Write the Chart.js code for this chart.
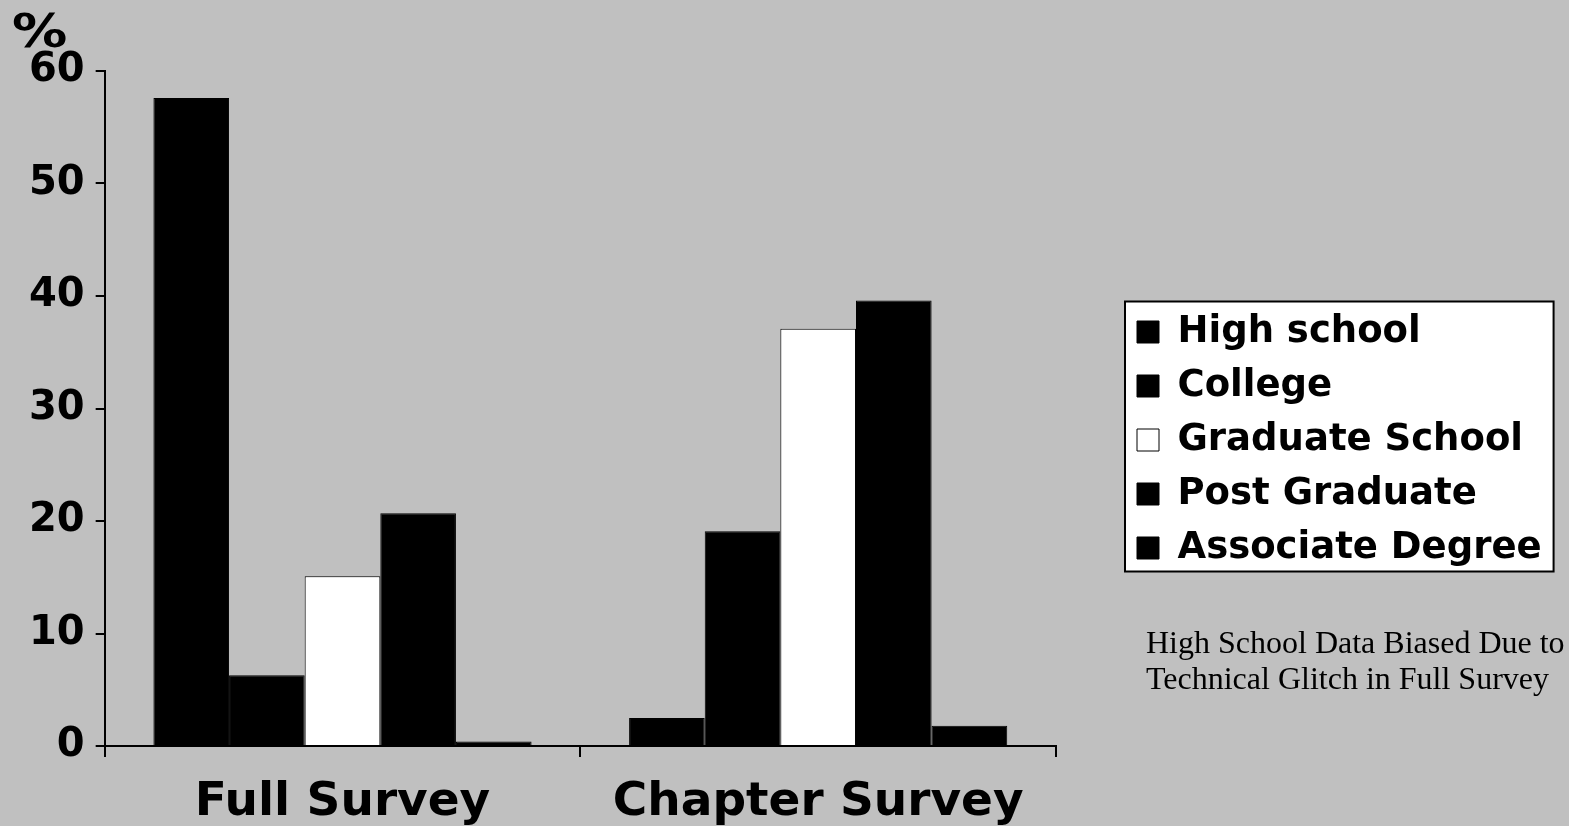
<!DOCTYPE html>
<html>
<head>
<meta charset="utf-8">
<script src="https://cdn.jsdelivr.net/npm/chart.js@4.4.1/dist/chart.umd.min.js"></script>
<style>
  html, body { margin: 0; padding: 0; background: #c0c0c0; overflow: hidden; }
  canvas { display: block; }
</style>
</head>
<body>
<canvas id="eduChart" width="1569" height="826"></canvas>
<script>
// Данные диаграммы
const categories = ['Full Survey', 'Chapter Survey'];
const seriesNames = ['High school', 'College', 'Graduate School', 'Post Graduate', 'Associate Degree'];
const highSchool = [57.6, 2.5];
const college = [6.3, 19.1];
const graduateSchool = [15.1, 37.1];
const postGraduate = [20.7, 39.6];
const associateDegree = [0.4, 1.8];
const yTicks = [0, 10, 20, 30, 40, 50, 60];
const seriesColors = ['#000000', '#000000', '#ffffff', '#000000', '#000000'];
const noteLines = ['High School Data Biased Due to', 'Technical Glitch in Full Survey'];

Chart.defaults.font.family = 'DejaVu Sans';
Chart.defaults.color = '#000';

// Легенда: сдвигаем вправо от графика, рамка, знак % и примечание
const extrasPlugin = {
  id: 'extras',
  afterLayout(chart) {
    const lg = chart.legend;
    const pad = lg.options.labels.padding;
    const w = pad + Math.max(...lg.legendHitBoxes.map(b => b.width)) + 10;
    lg.left = chart.chartArea.right + 64;
    lg.right = lg.left + w;
    lg.width = w;
    lg.top = 54;
    lg.height = lg.bottom - lg.top;
  },
  beforeDraw(chart) {
    const hb = chart.legend.legendHitBoxes;
    if (!hb || !hb.length) return;
    const left = Math.min(...hb.map(b => b.left)) - 12;
    const top = hb[0].top - 12;
    const right = Math.max(...hb.map(b => b.left + b.width)) + 12;
    const bottom = hb[hb.length - 1].top + hb[hb.length - 1].height + 5;
    const ctx = chart.ctx;
    ctx.save();
    ctx.fillStyle = '#ffffff';
    ctx.fillRect(left, top, right - left, bottom - top);
    ctx.strokeStyle = '#000';
    ctx.lineWidth = 2;
    ctx.strokeRect(left, top, right - left, bottom - top);
    ctx.restore();
  },
  afterDraw(chart) {
    const ctx = chart.ctx;
    ctx.save();
    ctx.fillStyle = '#000';
    ctx.textBaseline = 'alphabetic';
    ctx.font = 'bold 46px "DejaVu Sans"';
    ctx.setTransform(1.2, 0, 0, 1, 0, 0);
    ctx.fillText('%', 10, 47);
    ctx.setTransform(1, 0, 0, 1, 0, 0);
    ctx.font = '32px "Liberation Serif"';
    ctx.fillText(noteLines[0], 1146, 653);
    ctx.fillText(noteLines[1], 1146, 689);
    ctx.restore();
  }
};

const series = [highSchool, college, graduateSchool, postGraduate, associateDegree];

new Chart(document.getElementById('eduChart'), {
  type: 'bar',
  data: {
    labels: categories,
    datasets: series.map((values, i) => ({
      label: seriesNames[i],
      data: values,
      backgroundColor: seriesColors[i],
      borderColor: '#000',
      borderWidth: 1,
      categoryPercentage: 0.795,
      barPercentage: 1
    }))
  },
  options: {
    responsive: false,
    animation: false,
    devicePixelRatio: 1,
    layout: {
      padding: { left: 18, right: 263, top: 71, bottom: 0 }
    },
    scales: {
      x: {
        afterFit: scale => { scale.height = 80; },
        grid: {
          display: true,
          drawOnChartArea: false,
          offset: true,
          tickLength: 11,
          color: '#000',
          lineWidth: 2
        },
        border: { color: '#000', width: 2 },
        ticks: {
          color: '#000',
          padding: 18,
          maxRotation: 0,
          font: { size: 47, weight: 'bold' }
        }
      },
      y: {
        min: 0,
        max: 60,
        afterBuildTicks: scale => {
          scale.ticks = yTicks.map(v => ({ value: v }));
        },
        grid: {
          drawOnChartArea: false,
          tickLength: 9,
          color: '#000',
          lineWidth: 2
        },
        border: { color: '#000', width: 2 },
        ticks: {
          color: '#000',
          padding: 11,
          font: { size: 40, weight: 'bold' }
        }
      }
    },
    plugins: {
      legend: {
        position: 'right',
        align: 'center',
        maxWidth: 250,
        labels: {
          boxWidth: 22,
          boxHeight: 22,
          padding: 17,
          color: '#000',
          font: { size: 37, weight: 'bold' }
        }
      },
      tooltip: { enabled: false }
    }
  },
  plugins: [extrasPlugin]
});
</script>
</body>
</html>
